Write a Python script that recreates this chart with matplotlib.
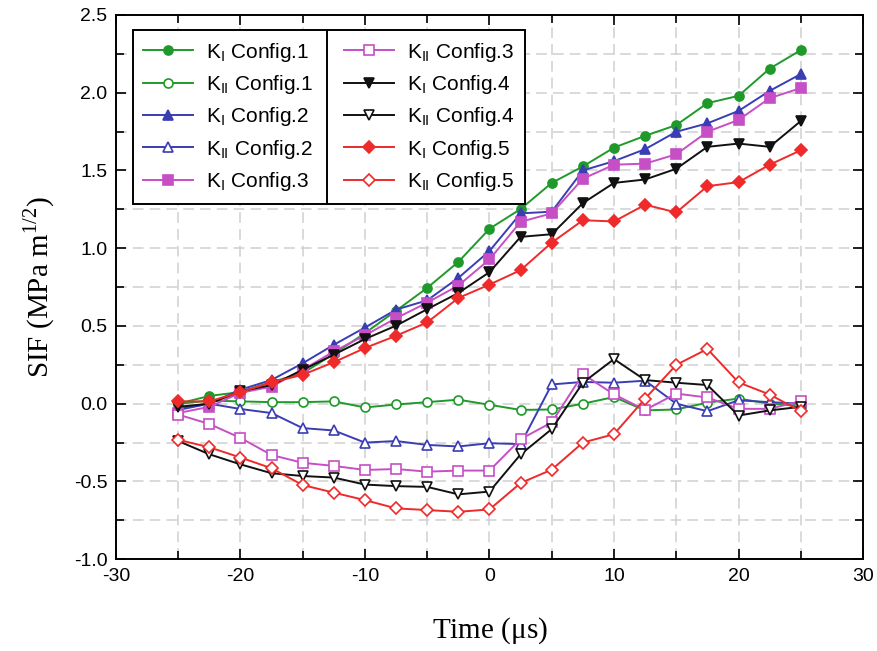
import matplotlib
matplotlib.use("Agg")
import matplotlib.pyplot as plt
from matplotlib.lines import Line2D
from matplotlib.ticker import MultipleLocator, FormatStrFormatter

# time steps (microseconds)
time_us = [-25, -22.5, -20, -17.5, -15, -12.5, -10, -7.5, -5, -2.5, 0,
           2.5, 5, 7.5, 10, 12.5, 15, 17.5, 20, 22.5, 25]

# mode I stress intensity factors
k1_cfg1 = [0.00, 0.05, 0.075, 0.14, 0.196, 0.32, 0.454, 0.598, 0.745, 0.912, 1.125,
           1.252, 1.42, 1.526, 1.647, 1.723, 1.792, 1.933, 1.98, 2.155, 2.274]
k1_cfg2 = [-0.03, 0.00, 0.09, 0.153, 0.26, 0.379, 0.49, 0.605, 0.665, 0.809, 0.982,
           1.224, 1.235, 1.50, 1.56, 1.637, 1.749, 1.803, 1.883, 2.012, 2.12]
k1_cfg3 = [-0.06, -0.02, 0.07, 0.11, 0.218, 0.336, 0.44, 0.55, 0.65, 0.76, 0.928,
           1.17, 1.224, 1.447, 1.537, 1.544, 1.604, 1.749, 1.825, 1.965, 2.03]
k1_cfg4 = [-0.02, 0.00, 0.08, 0.12, 0.218, 0.315, 0.416, 0.502, 0.608, 0.712, 0.846,
           1.073, 1.09, 1.29, 1.42, 1.442, 1.511, 1.652, 1.673, 1.652, 1.818]
k1_cfg5 = [0.015, 0.015, 0.075, 0.137, 0.186, 0.267, 0.358, 0.437, 0.523, 0.68, 0.766,
           0.859, 1.036, 1.18, 1.172, 1.28, 1.23, 1.399, 1.425, 1.537, 1.63]

# mode II stress intensity factors
k2_cfg1 = [0.00, 0.02, 0.015, 0.01, 0.01, 0.015, -0.024, -0.005, 0.01, 0.026, -0.007,
           -0.04, -0.037, 0.00, 0.043, -0.043, -0.037, 0.007, 0.033, 0.00, -0.015]
k2_cfg2 = [-0.04, 0.00, -0.034, -0.06, -0.157, -0.172, -0.25, -0.24, -0.265, -0.275, -0.254,
           -0.26, 0.124, 0.14, 0.135, 0.148, 0.00, -0.048, 0.022, 0.01, 0.00]
k2_cfg3 = [-0.07, -0.13, -0.22, -0.33, -0.38, -0.40, -0.426, -0.42, -0.437, -0.43, -0.43,
           -0.228, -0.12, 0.19, 0.06, -0.04, 0.065, 0.04, -0.033, -0.033, 0.017]
k2_cfg4 = [-0.24, -0.325, -0.39, -0.447, -0.465, -0.475, -0.52, -0.53, -0.535, -0.583, -0.565,
           -0.326, -0.163, 0.135, 0.287, 0.152, 0.135, 0.12, -0.076, -0.043, -0.02]
k2_cfg5 = [-0.232, -0.28, -0.346, -0.415, -0.523, -0.572, -0.62, -0.673, -0.684, -0.695, -0.68,
           -0.51, -0.424, -0.25, -0.196, 0.033, 0.25, 0.352, 0.137, 0.059, -0.048]

series = [
    (k1_cfg1, r'K$_\mathregular{I}$ Config.1', '#1f9a2a', 'o', True),
    (k2_cfg1, r'K$_\mathregular{II}$ Config.1', '#1f9a2a', 'o', False),
    (k1_cfg2, r'K$_\mathregular{I}$ Config.2', '#3a3db3', '^', True),
    (k2_cfg2, r'K$_\mathregular{II}$ Config.2', '#3a3db3', '^', False),
    (k1_cfg3, r'K$_\mathregular{I}$ Config.3', '#c64fc6', 's', True),
    (k2_cfg3, r'K$_\mathregular{II}$ Config.3', '#c64fc6', 's', False),
    (k1_cfg4, r'K$_\mathregular{I}$ Config.4', '#111111', 'v', True),
    (k2_cfg4, r'K$_\mathregular{II}$ Config.4', '#111111', 'v', False),
    (k1_cfg5, r'K$_\mathregular{I}$ Config.5', '#ee2a2a', 'D', True),
    (k2_cfg5, r'K$_\mathregular{II}$ Config.5', '#ee2a2a', 'D', False),
]

plt.rcParams['font.family'] = ['Liberation Sans', 'DejaVu Sans']
plt.rcParams['axes.unicode_minus'] = False

fig = plt.figure(figsize=(8.78, 6.51), dpi=100)
ax = fig.add_axes([0.132, 0.141, 0.851, 0.836])

for values, label, color, marker, filled in series:
    ms = 6.5 if marker != 'D' else 6
    ax.plot(time_us, values, color=color, lw=1.4, marker=marker, ms=ms,
            markerfacecolor=color if filled else 'white',
            markeredgecolor=color, markeredgewidth=1.2, label=label, zorder=3)

ax.set_xlim(-30, 30)
ax.set_ylim(-1.0, 2.5)
ax.xaxis.set_major_locator(MultipleLocator(10))
ax.xaxis.set_minor_locator(MultipleLocator(5))
ax.yaxis.set_major_locator(MultipleLocator(0.5))
ax.yaxis.set_minor_locator(MultipleLocator(0.25))
ax.yaxis.set_major_formatter(FormatStrFormatter('%.1f'))

ax.grid(True, which='both', color='#cfcfcf', ls=(0, (7, 4)), lw=1.1)
ax.set_axisbelow(True)
ax.tick_params(which='both', direction='in', top=True, right=True, width=1.2)
ax.tick_params(which='major', length=7, labelsize=14, pad=6)
ax.tick_params(which='minor', length=6)
for sp in ax.spines.values():
    sp.set_linewidth(1.4)

ax.set_xlabel(r'Time ($\mathregular{\mu}$s)', fontsize=21, family='Liberation Serif', labelpad=22)
ax.set_ylabel(r'SIF (MPa m$^\mathregular{1/2}$)', fontsize=21, family='Liberation Serif', labelpad=12)

leg = ax.legend(ncol=2, loc='upper left', bbox_to_anchor=(0.023, 0.972), borderaxespad=0,
                fontsize=15, frameon=True, fancybox=False, edgecolor='black',
                handlelength=2.4, handletextpad=0.6, columnspacing=1.5,
                labelspacing=0.45, borderpad=0.5)
leg.get_frame().set_linewidth(1.4)
leg.get_frame().set_alpha(None)
leg.get_frame().set_facecolor('white')

# vertical divider between the two legend columns
fig.canvas.draw()
renderer = fig.canvas.get_renderer()
texts = leg.get_texts()
col1_right = max(t.get_window_extent(renderer).x1 for t in texts[:5])
col2_left = min(h.get_window_extent(renderer).x0 for h in leg.legend_handles[5:])
frame_box = leg.get_frame().get_window_extent(renderer)
mid_x = (col1_right + col2_left) / 2
inv = fig.transFigure.inverted()
(fx, fy0), (_, fy1) = inv.transform([(mid_x, frame_box.y0), (mid_x, frame_box.y1)])
fig.add_artist(Line2D([fx, fx], [fy0, fy1], color='black', lw=1.4, zorder=10))

fig.savefig('out.png', dpi=100)
